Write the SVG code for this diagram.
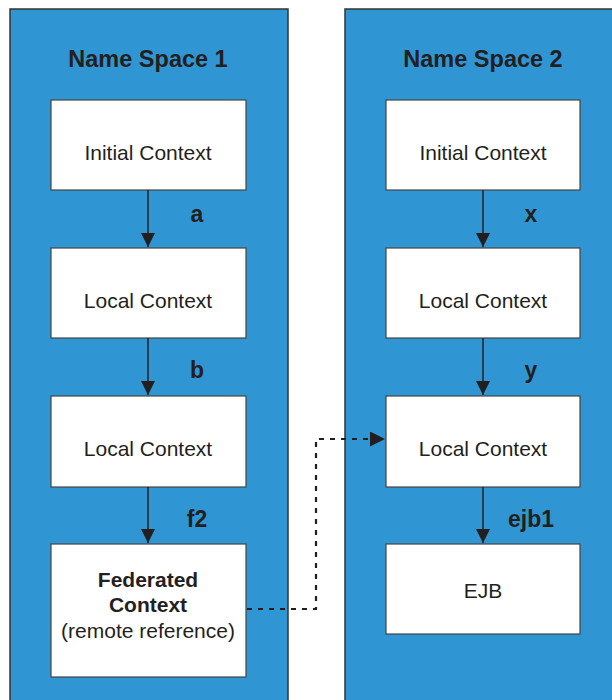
<svg xmlns="http://www.w3.org/2000/svg" width="612" height="700" viewBox="0 0 612 700">
<style>
.panel{fill:#2f96d3;stroke:#333;stroke-width:1.5}
.box{fill:#fff;stroke:#444;stroke-width:1.2}
.title{font-family:"Liberation Sans",Arial,sans-serif;font-weight:bold;font-size:23.5px;fill:#231f20;text-anchor:middle}
.t{font-family:"Liberation Sans",Arial,sans-serif;font-size:21px;fill:#231f20;text-anchor:middle}
.tb{font-family:"Liberation Sans",Arial,sans-serif;font-size:21px;font-weight:bold;fill:#231f20;text-anchor:middle}
.lbl{font-family:"Liberation Sans",Arial,sans-serif;font-size:23px;font-weight:bold;fill:#231f20;text-anchor:middle}
.arr{stroke:#231f20;stroke-width:1.5;fill:none;marker-end:url(#ah)}
.dot{stroke:#231f20;stroke-width:2.2;fill:none;stroke-dasharray:5,6;marker-end:url(#ah2)}
</style>
<defs>
<marker id="ah" viewBox="0 0 10 10" refX="10" refY="5" markerWidth="17" markerHeight="14" markerUnits="userSpaceOnUse" orient="auto"><path d="M0,0 L10,5 L0,10 z" fill="#231f20"/></marker>
<marker id="ah2" viewBox="0 0 10 10" refX="10" refY="5" markerWidth="18" markerHeight="15" markerUnits="userSpaceOnUse" orient="auto"><path d="M0,0 L10,5 L0,10 z" fill="#231f20"/></marker>
</defs>
<g id="ns1">
<rect class="panel" x="10" y="9" width="278" height="700"/>
<text class="title" x="148" y="67">Name Space 1</text>
</g>
<g id="ns2">
<rect class="panel" x="345" y="9" width="280" height="700"/>
<text class="title" x="483" y="67">Name Space 2</text>
</g>
<g id="n1"><rect class="box" x="51" y="100" width="195" height="90"/><text class="t" x="148" y="160">Initial Context</text></g>
<g id="n2"><rect class="box" x="51" y="248" width="195" height="90"/><text class="t" x="148" y="308">Local Context</text></g>
<g id="n3"><rect class="box" x="51" y="396" width="195" height="91"/><text class="t" x="148" y="456">Local Context</text></g>
<g id="n4"><rect class="box" x="51" y="544" width="195" height="133"/>
<text class="tb" x="148" y="587">Federated</text>
<text class="tb" x="148" y="612">Context</text>
<text class="t" x="148" y="638">(remote reference)</text></g>
<g id="m1"><rect class="box" x="386" y="100" width="194" height="90"/><text class="t" x="483" y="160">Initial Context</text></g>
<g id="m2"><rect class="box" x="386" y="248" width="194" height="90"/><text class="t" x="483" y="308">Local Context</text></g>
<g id="m3"><rect class="box" x="386" y="396" width="194" height="91"/><text class="t" x="483" y="456">Local Context</text></g>
<g id="m4"><rect class="box" x="386" y="544" width="194" height="90"/><text class="t" x="483" y="598">EJB</text></g>
<g id="connectors">
<line class="arr" x1="148" y1="190" x2="148" y2="247"/>
<line class="arr" x1="148" y1="338" x2="148" y2="395"/>
<line class="arr" x1="148" y1="487" x2="148" y2="543"/>
<line class="arr" x1="483" y1="190" x2="483" y2="247"/>
<line class="arr" x1="483" y1="338" x2="483" y2="395"/>
<line class="arr" x1="483" y1="487" x2="483" y2="543"/>
<path class="dot" d="M247,609 H316 V439 H385"/>
<text class="lbl" x="197" y="222">a</text>
<text class="lbl" x="197" y="378">b</text>
<text class="lbl" x="197" y="527">f2</text>
<text class="lbl" x="531" y="222">x</text>
<text class="lbl" x="531" y="378">y</text>
<text class="lbl" x="531" y="527">ejb1</text>
</g>
</svg>
